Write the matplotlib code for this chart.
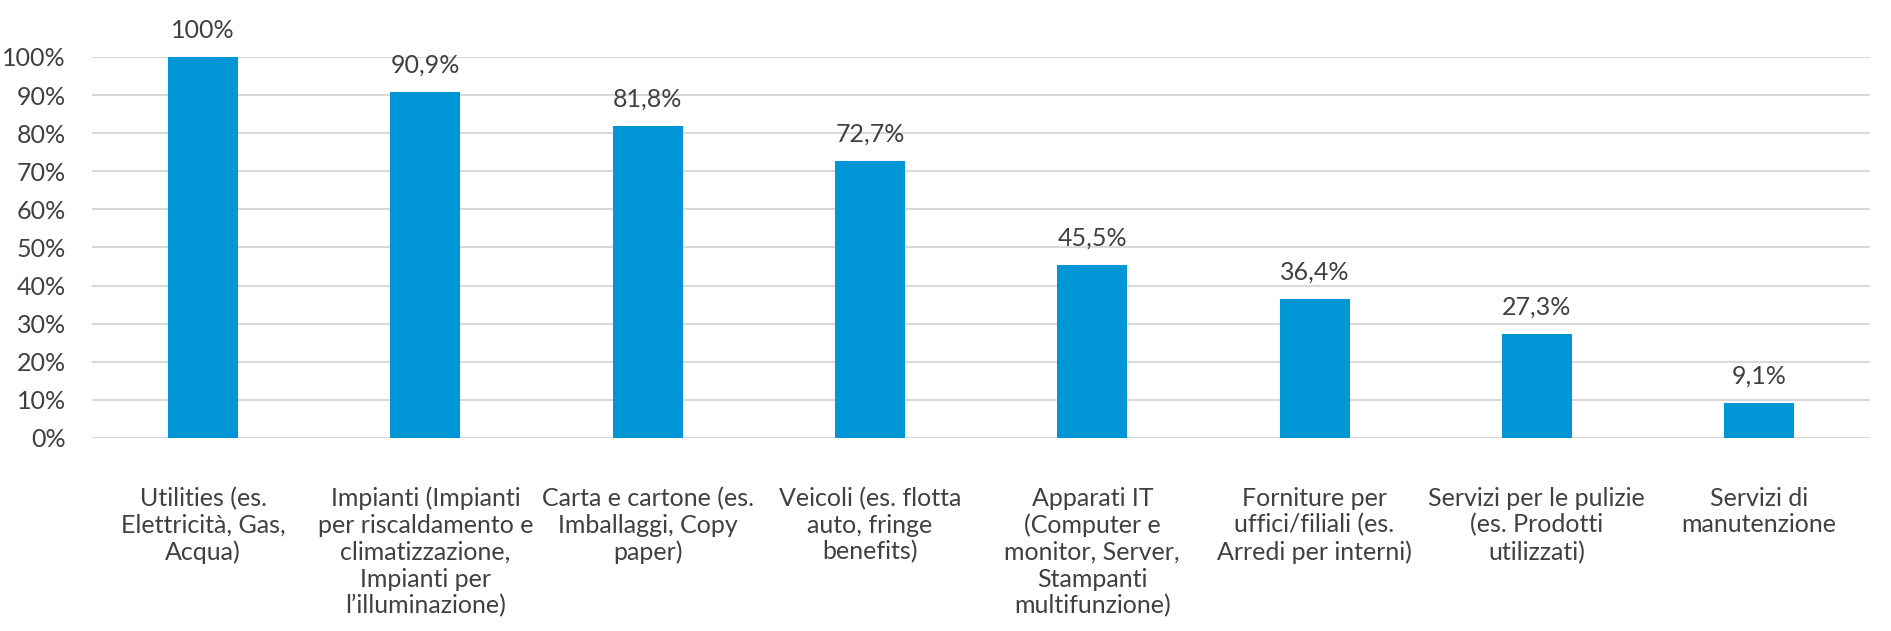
import matplotlib.pyplot as plt
from matplotlib.ticker import FuncFormatter

plt.rcParams['font.family'] = ['Lato', 'DejaVu Sans']

# Categories and shares
categories = [
    'Utilities (es.\nElettricità, Gas,\nAcqua)',
    'Impianti (Impianti\nper riscaldamento e\nclimatizzazione,\nImpianti per\nl\u2019illuminazione)',
    'Carta e cartone (es.\nImballaggi, Copy\npaper)',
    'Veicoli (es. flotta\nauto, fringe\nbenefits)',
    'Apparati IT\n(Computer e\nmonitor, Server,\nStampanti\nmultifunzione)',
    'Forniture per\nuffici/filiali (es.\nArredi per interni)',
    'Servizi per le pulizie\n(es. Prodotti\nutilizzati)',
    'Servizi di\nmanutenzione',
]
values = [100, 90.9, 81.8, 72.7, 45.5, 36.4, 27.3, 9.1]
value_labels = ['100%', '90,9%', '81,8%', '72,7%', '45,5%', '36,4%', '27,3%', '9,1%']

fig = plt.figure(figsize=(18.91, 6.31), dpi=100)
ax = fig.add_axes([0.0487, 0.306, 0.9403, 0.6037])

x = range(len(categories))
bars = ax.bar(x, values, width=0.315, color='#0096D6', zorder=3)

for bar, lab in zip(bars, value_labels):
    ax.annotate(lab, (bar.get_x() + bar.get_width() / 2, bar.get_height()),
                xytext=(0, 11), textcoords='offset points',
                ha='center', va='bottom', fontsize=18, color='#404040')

ax.set_xlim(-0.5, len(categories) - 0.5)
ax.set_ylim(0, 100)
ax.set_yticks(range(0, 101, 10))
ax.yaxis.set_major_formatter(FuncFormatter(lambda v, p: f'{int(v)}%'))
ax.set_xticks(list(x))
ax.set_xticklabels(categories, fontsize=18, color='#404040', linespacing=1.2,
                   va='top', ha='center')
ax.tick_params(axis='y', labelsize=18, labelcolor='#404040', length=0, pad=19)
ax.tick_params(axis='x', length=0, pad=35)

ax.grid(axis='y', color='#d9d9d9', linewidth=1.5, zorder=0)
for s in ax.spines.values():
    s.set_visible(False)

fig.savefig('out.png', dpi=100)
